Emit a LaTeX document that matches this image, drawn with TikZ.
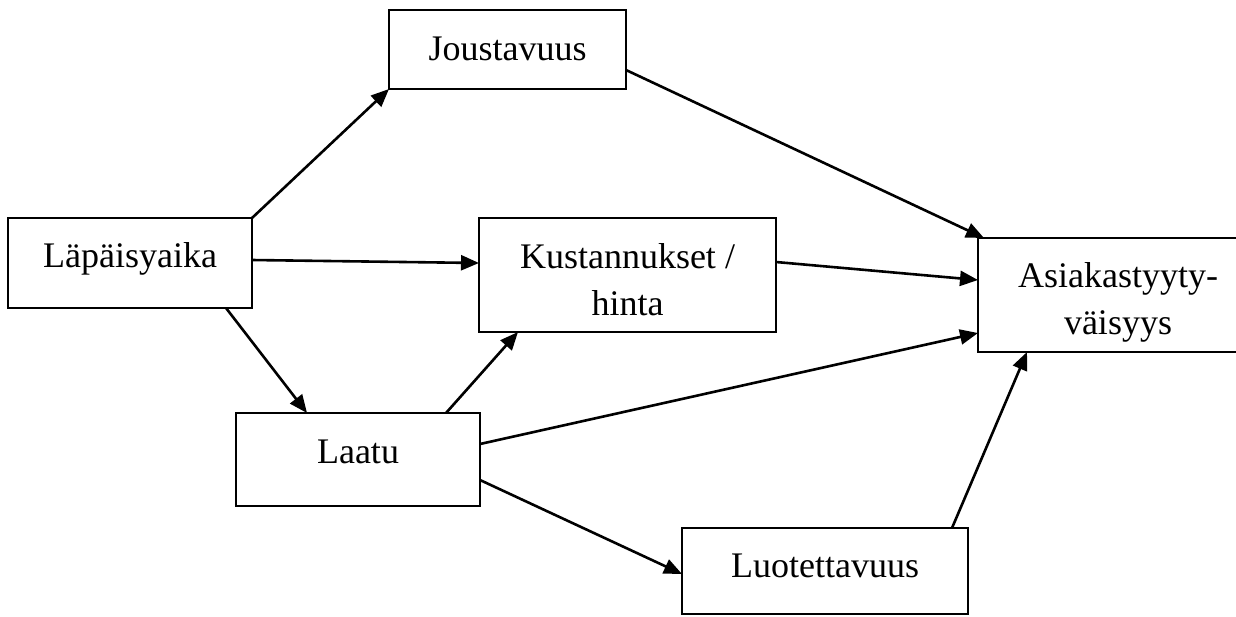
\documentclass[tikz,border=0pt]{standalone}
\usepackage{fontspec}
\setmainfont{Liberation Serif}
\usetikzlibrary{arrows.meta,calc}

\tikzset{
  box/.style={draw, line width=1.4pt, inner xsep=0pt, inner ysep=0pt,
    outer sep=0pt, anchor=north west,
    font=\fontsize{18}{23.75}\selectfont},
  link/.style={line width=1.3pt,
    -{Triangle[length=9pt,width=7.5pt]}, shorten >=0pt}
}

\newcommand{\twolines}[2]{\parbox[t]{140pt}{\centering #1\\#2}}

\begin{document}
\begin{tikzpicture}[x=0.5pt, y=-0.5pt]
  \useasboundingbox (0,0) rectangle (1236,616);

  % boxes
  \node[box, minimum width=118.5pt, text height=25pt, text depth=14.5pt]
    (jou) at (389,10) {Joustavuus};
  \node[box, minimum width=122pt, text height=24.5pt, text depth=20.5pt]
    (lap) at (8,218) {Läpäisyaika};
  \node[box, minimum width=148.5pt, text height=25pt, text depth=32pt]
    (kus) at (479,218) {\twolines{Kustannukset /}{hinta}};
  \node[box, minimum width=127pt, text height=24.5pt, text depth=32.5pt]
    (asi) at (978,238) {\twolines{Asiakastyyty-}{väisyys}};
  \node[box, minimum width=122pt, text height=25pt, text depth=21.5pt]
    (laa) at (236,413) {Laatu};
  \node[box, minimum width=143pt, text height=24.5pt, text depth=18.5pt]
    (luo) at (682,528) {Luotettavuus};

  % connectors
  \draw[link] (lap.north east) -- (jou.south west);
  \draw[link] ($(lap.north east)+(0,42)$) -- ($(kus.north west)+(0,45)$);
  \draw[link] ($(lap.south west)+(218,0)$) -- ($(laa.north west)+(71,0)$);
  \draw[link] ($(laa.north west)+(210,0)$) -- ($(kus.south west)+(39,0)$);
  \draw[link] ($(laa.north east)+(0,31)$) -- ($(asi.south west)+(0,-19)$);
  \draw[link] ($(laa.north east)+(0,67)$) -- ($(luo.north west)+(0,46)$);
  \draw[link] ($(kus.north east)+(0,44)$) -- ($(asi.north west)+(0,42)$);
  \draw[link] ($(jou.north east)+(0,60)$) -- ($(asi.north west)+(6,0)$);
  \draw[link] ($(luo.north east)+(-16,0)$) -- ($(asi.south west)+(49,0)$);
\end{tikzpicture}
\end{document}
